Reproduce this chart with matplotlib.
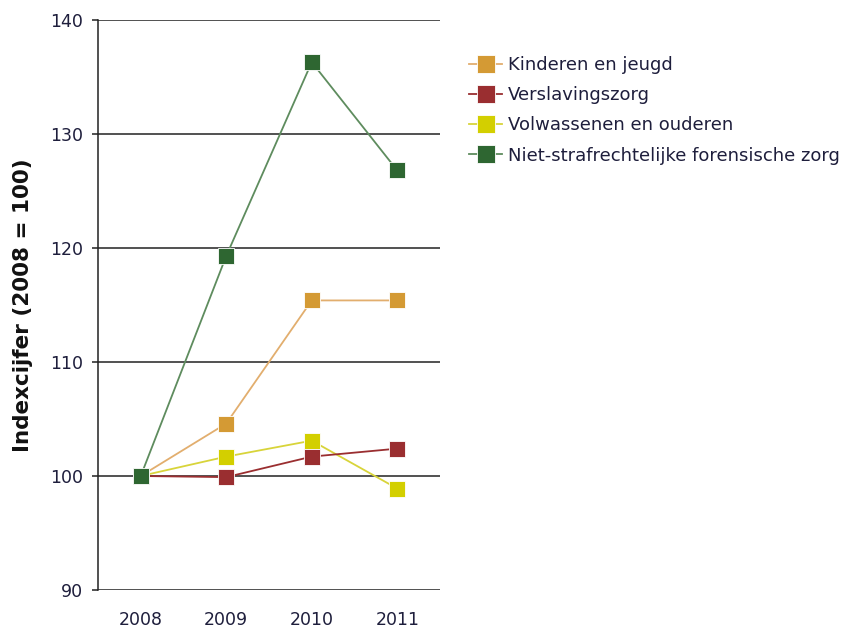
import matplotlib
matplotlib.use('Agg')
import matplotlib.pyplot as plt

plt.rcParams['font.family'] = ['DejaVu Sans']

# Data
years = ['2008', '2009', '2010', '2011']
kinderen = [100, 104.6, 115.4, 115.4]
verslaving = [100, 99.9, 101.7, 102.4]
volwassenen = [100, 101.7, 103.1, 98.9]
forensisch = [100, 119.3, 136.3, 126.8]

series = [
    ('Kinderen en jeugd', kinderen, '#D49A34', '#E2AE6E', 2),
    ('Verslavingszorg', verslaving, '#9A2E30', '#9A2E30', 4),
    ('Volwassenen en ouderen', volwassenen, '#D3CF00', '#D8D43A', 3),
    ('Niet-strafrechtelijke forensische zorg', forensisch, '#2E6631', '#5E8C5E', 5),
]

text_color = '#1E1E3C'

fig = plt.figure(figsize=(8.47, 6.3), dpi=100)
ax = fig.add_axes([0.1157, 0.0635, 0.4038, 0.9048])

x = range(len(years))
for name, vals, mcol, lcol, z in series:
    ax.plot(x, vals, color=lcol, linewidth=1.3, marker='s', markersize=12,
            markerfacecolor=mcol, markeredgecolor='white', markeredgewidth=0.6,
            label=name, zorder=z)

ax.set_xlim(-0.5, 3.5)
ax.set_ylim(90, 140)
ax.set_yticks(range(90, 141, 10))
ax.set_xticks(list(x))
ax.set_xticklabels(years)

for yv in range(90, 141, 10):
    ax.axhline(yv, color='#222222', linewidth=1.1, zorder=1)

for s in ['top', 'right', 'bottom']:
    ax.spines[s].set_visible(False)
ax.spines['left'].set_color('#222222')
ax.spines['left'].set_linewidth(1.1)

ax.tick_params(axis='y', length=4, width=1.1, color='#222222', labelsize=12.5,
               labelcolor=text_color, pad=7)
ax.tick_params(axis='x', length=0, labelsize=12.5, labelcolor=text_color, pad=15)

ax.set_ylabel('Indexcijfer (2008 = 100)', fontsize=15.5, fontweight='bold',
              color='#111111', labelpad=12)

leg = fig.legend(loc='upper left', bbox_to_anchor=(0.535, 0.937), frameon=False,
                 fontsize=13, handlelength=1.8, handletextpad=0.35,
                 labelspacing=0.68, markerscale=1.05)
for t in leg.get_texts():
    t.set_color(text_color)

plt.savefig('out.png', dpi=100)
plt.close()
